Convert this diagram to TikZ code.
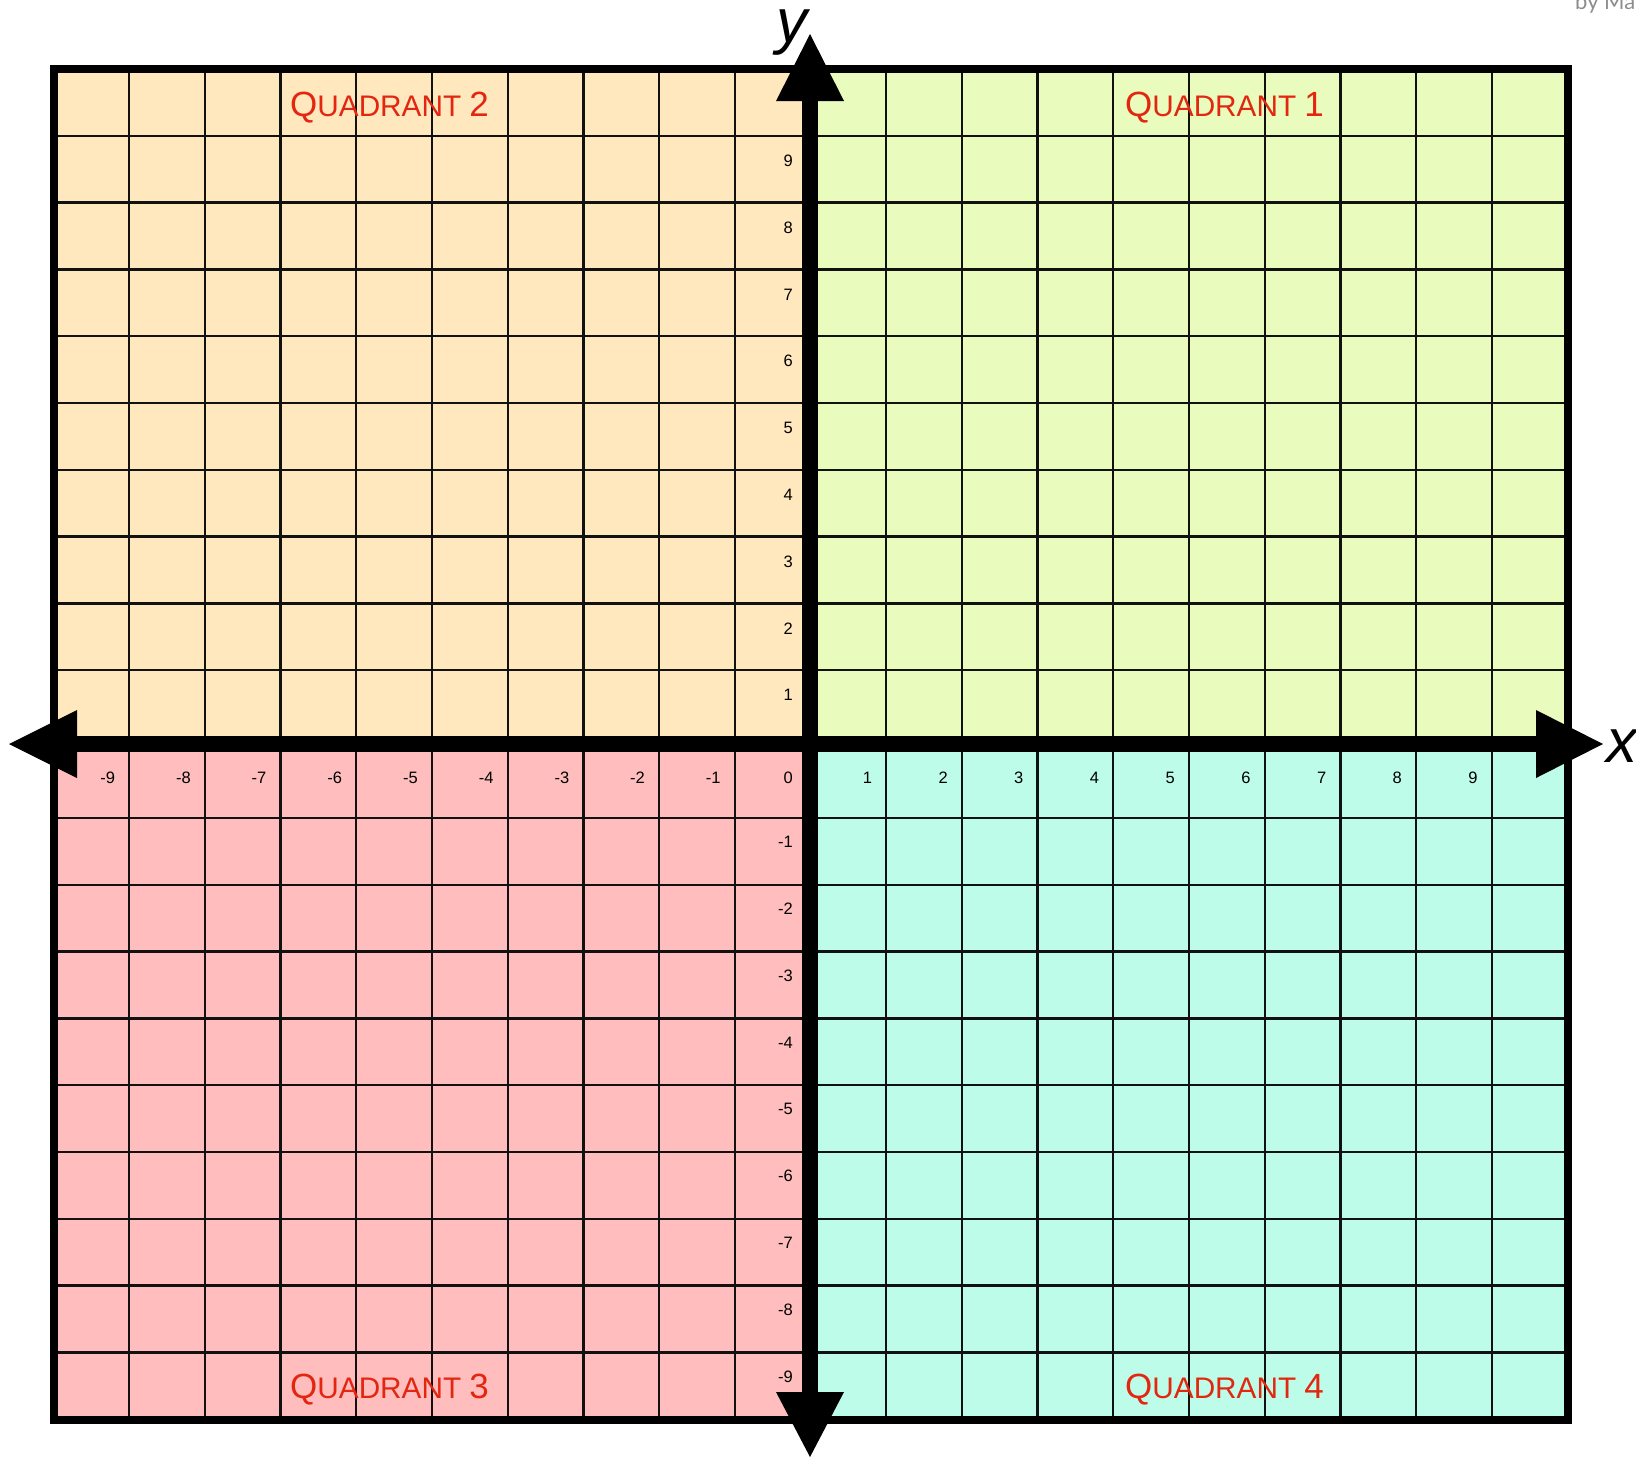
\documentclass[tikz,border=0pt]{standalone}
\usepackage{fontspec}
\setmainfont{Liberation Sans}
\newfontfamily\creditfont{Lato}
\usetikzlibrary{calc}
\definecolor{quadI}{RGB}{234,252,189}
\definecolor{quadII}{RGB}{255,232,189}
\definecolor{quadIII}{RGB}{255,189,189}
\definecolor{quadIV}{RGB}{189,252,232}
\definecolor{quadred}{RGB}{227,38,16}
\tikzstyle{gridline} = [line width=2.3pt,color={rgb, 255:red, 17; green, 17; blue, 17}]
\tikzstyle{axis} = [line width=16pt]
\tikzstyle{tick} = [anchor=east,inner sep=0pt,font=\fontsize{16.5}{16.5}\selectfont]
\tikzstyle{quadlabel} = [anchor=base west,inner sep=0pt,text=quadred]
\newcommand{\quadname}[1]{{\fontsize{35}{35}\selectfont Q}{\fontsize{29.75}{30}\selectfont UADRANT }{\fontsize{35}{35}\selectfont #1}}

\begin{document}
\begin{tikzpicture}[x=1pt,y=1pt,yscale=-1,xscale=1]
\useasboundingbox (0,0) rectangle (1636,1457);

%Shape: Rectangle [quadrant fills]
\fill [quadII] (53.5,69) rectangle (810,744);
\fill [quadI] (810,69) rectangle (1567.5,744);
\fill [quadIII] (53.5,744) rectangle (810,1419.5);
\fill [quadIV] (810,744) rectangle (1567.5,1419.5);

%Straight Lines [vertical grid]
\foreach \i in {1,...,19}
  \draw [gridline] ({53.5+\i*75.7},69) -- ({53.5+\i*75.7},1419.5);
%Straight Lines [horizontal grid]
\foreach \j in {1,...,9} {
  \draw [gridline] (53.5,{69+\j*66.8}) -- (1567.5,{69+\j*66.8});
  \draw [gridline] (53.5,{818+(\j-1)*66.8}) -- (1567.5,{818+(\j-1)*66.8});
}

%Shape: Rectangle [frame]
\draw [line width=8pt] (53.5,69) rectangle (1567.5,1419.5);

% Axes
\coordinate (xneg) at (9,744);
\coordinate (xpos) at (1603,744);
\coordinate (ypos) at (810,34);
\coordinate (yneg) at (810,1457);
\draw [axis,shorten <=60pt,shorten >=60pt] (xneg) -- (xpos);
\draw [axis,shorten <=60pt,shorten >=60pt] (yneg) -- (ypos);
\fill (xneg) -- ++(68,-34) -- ++(0,68) -- cycle;
\fill (xpos) -- ++(-67,-34) -- ++(0,68) -- cycle;
\fill (ypos) -- ++(-34,67) -- ++(68,0) -- cycle;
\fill (yneg) -- ++(-34,-65) -- ++(68,0) -- cycle;

% Text Node
\node [anchor=base west,inner sep=0pt,font=\fontsize{62}{62}\selectfont\itshape] (ylab) at (776,42) {y};
% Text Node
\node [anchor=base west,inner sep=0pt,font=\fontsize{62}{62}\selectfont\itshape] (xlab) at (1606,762) {x};

% Tick labels
\node [tick] (t0) at (793,777.5) {0};
\foreach \k in {1,...,9} {
  \node [tick] (ty\k) at (793,{69+(10-\k)*66.8+25}) {\k};
  \node [tick] (tyn\k) at (793,{818+(\k-1)*66.8+24}) {-\k};
  \node [tick] (tx\k) at ({810.5+\k*75.7-14},777.5) {\k};
  \node [tick] (txn\k) at ({810.5-\k*75.7-14},777.5) {-\k};
}

% Text Node
\node [quadlabel] (q1) at (1125,116.5) {\quadname{1}};
% Text Node
\node [quadlabel] (q2) at (290,116.5) {\quadname{2}};
% Text Node
\node [quadlabel] (q3) at (290,1398) {\quadname{3}};
% Text Node
\node [quadlabel] (q4) at (1125,1398) {\quadname{4}};

% Text Node
\node [anchor=base west,inner sep=0pt,text=black!45,font=\creditfont\fontsize{22}{22}\selectfont] (credit) at (1575,9) {by Ma};

\end{tikzpicture}
\end{document}
